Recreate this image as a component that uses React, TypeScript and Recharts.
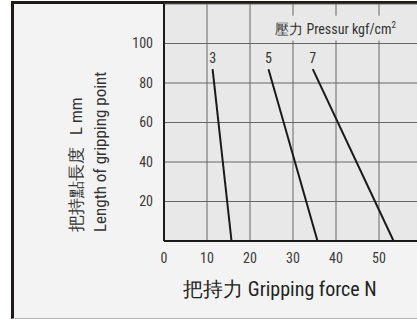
import { LineChart, Line, XAxis, YAxis, CartesianGrid, ReferenceArea } from "recharts";

const X_TICKS = [0, 10, 20, 30, 40, 50];
const Y_TICKS = [0, 20, 40, 60, 80, 100];

// gripping force (N) vs length of gripping point (mm), one line per pressure
const LINE_3 = [
  { force: 11.3, length: 87 },
  { force: 15.7, length: 0 },
];
const LINE_5 = [
  { force: 24.3, length: 87 },
  { force: 35.7, length: 0 },
];
const LINE_7 = [
  { force: 34.6, length: 87 },
  { force: 53.4, length: 0 },
];

const SERIES = [
  { name: "3", data: LINE_3 },
  { name: "5", data: LINE_5 },
  { name: "7", data: LINE_7 },
];

const FONT = '"Liberation Sans Narrow", "Arial Narrow", "Roboto Condensed", "Liberation Sans", sans-serif';
const PLOT_BG = "#e8e8e8";
const GRID = "#666";

export default function App() {
  return (
    <div style={{ position: "absolute", left: 0, top: 0, width: 417, height: 319, overflow: "hidden", background: "#fff" }}>
      <div
        style={{
          position: "absolute",
          left: 11,
          top: 1,
          width: 430,
          height: 314,
          background: "#f3f3f3",
          borderLeft: "3px solid #1e1a18",
          borderTop: "3px solid #1e1a18",
          borderBottom: "1px solid #b5b5b5",
        }}
      />
      <div style={{ position: "absolute", left: 0, top: 0 }}>
        <LineChart width={430} height={319} margin={{ top: 4, right: 8, bottom: 48, left: 104 }} style={{ fontFamily: FONT }}>
          <CartesianGrid stroke={GRID} strokeWidth={1} fill={PLOT_BG} fillOpacity={1} />
          <XAxis
            type="number"
            dataKey="force"
            domain={[0, 60]}
            ticks={X_TICKS}
            tickLine={false}
            tickMargin={6}
            height={30}
            axisLine={{ stroke: "#1a1a1a", strokeWidth: 2 }}
            tick={{ fill: "#3a3a3a", fontSize: 14, fontFamily: FONT }}
            label={{
              content: ({ viewBox }: any) => (
                <text x={viewBox.x + 116} y={296} textAnchor="middle" fill="#222" fontSize={20} fontFamily={FONT}>
                  把持力 Gripping force N
                </text>
              ),
            }}
          />
          <YAxis
            type="number"
            dataKey="length"
            domain={[0, 120]}
            ticks={Y_TICKS}
            tickLine={false}
            tickMargin={5}
            width={60}
            axisLine={{ stroke: "#1a1a1a", strokeWidth: 2 }}
            tick={{ fill: "#3a3a3a", fontSize: 14, fontFamily: FONT }}
            tickFormatter={(v: number) => (v === 0 ? "" : String(v))}
            label={{
              content: () => (
                <g fill="#333" fontFamily={FONT}>
                  <text transform="translate(82,232) rotate(-90)" fontSize={17}>
                    把持點長度
                    <tspan dx={12}>L mm</tspan>
                  </text>
                  <text transform="translate(106,232) rotate(-90)" fontSize={17}>
                    Length of gripping point
                  </text>
                </g>
              ),
            }}
          />
          <ReferenceArea
            x1={24.7}
            x2={60}
            y1={101.5}
            y2={114}
            fill={PLOT_BG}
            fillOpacity={1}
            stroke="none"
            ifOverflow="hidden"
            label={{
              content: ({ viewBox }: any) => (
                <text x={viewBox.x + 5} y={viewBox.y + 18} fill="#333" fontSize={14} fontFamily={FONT}>
                  壓力 Pressur kgf/cm
                  <tspan fontSize={9} dy={-6}>2</tspan>
                </text>
              ),
            }}
          />
          {SERIES.map((s) => (
            <Line
              key={s.name}
              data={s.data}
              dataKey="length"
              stroke="#1a1a1a"
              strokeWidth={2}
              dot={false}
              isAnimationActive={false}
              label={(p: any) =>
                p.index === 0 ? (
                  <text key={s.name} x={p.x} y={p.y - 6} textAnchor="middle" fill="#333" fontSize={14} fontFamily={FONT}>
                    {s.name}
                  </text>
                ) : (
                  <g key={s.name + "-end"} />
                )
              }
            />
          ))}
        </LineChart>
      </div>
    </div>
  );
}
